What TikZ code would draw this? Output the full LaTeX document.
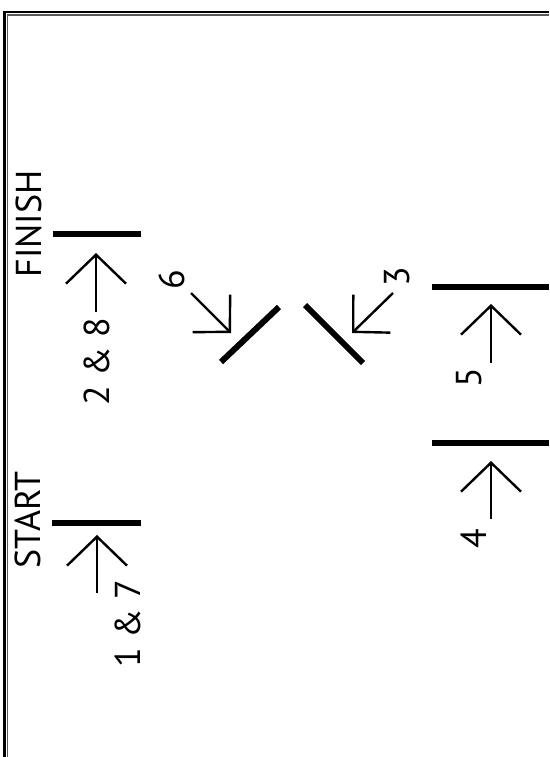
\documentclass[tikz,border=0pt]{standalone}
\usepackage{fontspec}
\setmainfont{PT Sans}
\usetikzlibrary{arrows.meta}
\tikzset{
  bar/.style={line width=6pt},
  mirror/.style={line width=6pt},
  path arrow/.style={line width=2.4pt,-{Straight Barb[length=29pt,width=60pt]}},
  slant arrow/.style={line width=2.4pt,-{Straight Barb[length=26pt,width=53pt]}},
  lab/.style={rotate=90,inner sep=0pt,font=\fontsize{36}{36}\selectfont}
}
\begin{document}
\begin{tikzpicture}[x=1pt,y=-1pt,line cap=butt]
                \useasboundingbox (0,0) rectangle (549,757);
                % frame
                \draw[line width=2.6pt] (4.5,757) |- (549,12);
                \draw[line width=1.2pt,black!65] (7.6,757) |- (549,15.1);
                % start and finish
                \node[lab] (finish) at (28.5,224) {FINISH};
                \node[lab] (start) at (27.5,520) {START};
                \draw[bar] (53,234) -- (141,234);
                \draw[bar] (52,523) -- (141,523);
                \draw[path arrow] (96,312) -- (96,253);
                \draw[path arrow] (97,593) -- (97,535);
                \node[lab] (l28) at (97,362) {2 \& 8};
                \node[lab] (l17) at (128,624) {1 \& 7};
                % mirrors
                \draw[mirror] (221,362) -- (279,307);
                \draw[mirror] (305,305) -- (363,363);
                \draw[slant arrow] (191,293) -- (231,333);
                \draw[slant arrow] (393,293) -- (352,333);
                \node[lab] (l6) at (172,280) {6};
                \node[lab] (l3) at (397,277) {3};
                % right side
                \draw[bar] (432,287) -- (549,287);
                \draw[bar] (432,443) -- (549,443);
                \draw[path arrow] (491,363) -- (491,304);
                \draw[path arrow] (491,519) -- (491,461);
                \node[lab] (l5) at (469,378) {5};
                \node[lab] (l4) at (474,539) {4};
\end{tikzpicture}
\end{document}
